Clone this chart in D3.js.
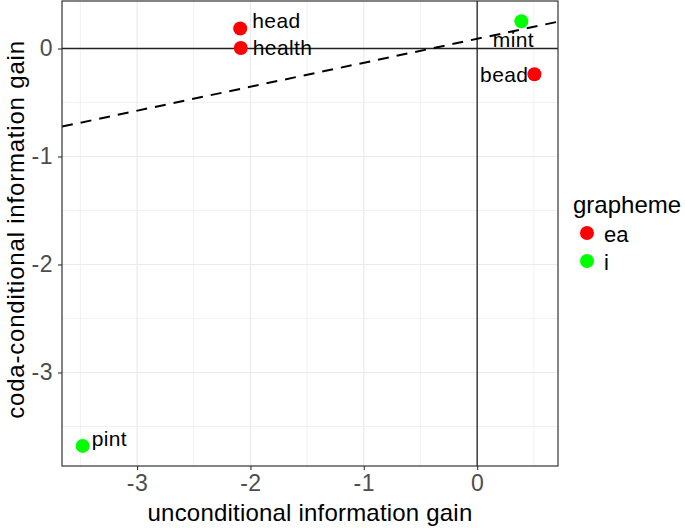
<!DOCTYPE html>
<html>
<head>
<meta charset="utf-8">
<script src="https://cdn.jsdelivr.net/npm/d3@7"></script>
<style>
  html, body { margin: 0; padding: 0; background: #fff; }
  svg { display: block; font-family: "Liberation Sans", Arial, sans-serif; }
</style>
</head>
<body>
<svg id="chart" width="685" height="528"></svg>
<script>
// ---- data ----
const words = ["head", "health", "mint", "bead", "pint"];
const graphemes = ["ea", "ea", "i", "ea", "i"];
const uncondGain = [-2.09, -2.085, 0.39, 0.505, -3.48];
const codaGain = [0.185, 0.005, 0.253, -0.238, -3.68];
const xTicks = [-3, -2, -1, 0];
const yTicks = [-3, -2, -1, 0];
const xMinor = [-3.5, -2.5, -1.5, -0.5, 0.5];
const yMinor = [-3.5, -2.5, -1.5, -0.5];
const legendKeys = ["ea", "i"];
const legendColors = ["#FF0000", "#00FF00"];
// dashed reference line: intercept and slope
const lineIntercept = 0.09;
const lineSlope = 0.222;

const svg = d3.select("#chart");
const pLeft = 62, pRight = 558, pTop = 1, pBottom = 466;

const x = d3.scaleLinear().domain([-3.662, 0.713]).range([pLeft, pRight]);
const y = d3.scaleLinear().domain([-3.866, 0.44]).range([pBottom, pTop]);
const color = d3.scaleOrdinal().domain(legendKeys).range(legendColors);

// background
svg.append("rect").attr("x", pLeft).attr("y", pTop).attr("width", pRight - pLeft).attr("height", pBottom - pTop).attr("fill", "#fff");

// grid
const grid = svg.append("g");
grid.selectAll(".xm").data(xMinor).enter().append("line")
  .attr("x1", d => x(d)).attr("x2", d => x(d)).attr("y1", pTop).attr("y2", pBottom)
  .attr("stroke", "#EBEBEB").attr("stroke-width", 0.7);
grid.selectAll(".ym").data(yMinor).enter().append("line")
  .attr("y1", d => y(d)).attr("y2", d => y(d)).attr("x1", pLeft).attr("x2", pRight)
  .attr("stroke", "#EBEBEB").attr("stroke-width", 0.7);
grid.selectAll(".xM").data(xTicks).enter().append("line")
  .attr("x1", d => x(d)).attr("x2", d => x(d)).attr("y1", pTop).attr("y2", pBottom)
  .attr("stroke", "#EBEBEB").attr("stroke-width", 1.2);
grid.selectAll(".yM").data(yTicks).enter().append("line")
  .attr("y1", d => y(d)).attr("y2", d => y(d)).attr("x1", pLeft).attr("x2", pRight)
  .attr("stroke", "#EBEBEB").attr("stroke-width", 1.2);

// reference lines at 0
svg.append("line").attr("x1", pLeft).attr("x2", pRight).attr("y1", y(0)).attr("y2", y(0))
  .attr("stroke", "#222").attr("stroke-width", 1.3);
svg.append("line").attr("x1", x(0)).attr("x2", x(0)).attr("y1", pTop).attr("y2", pBottom)
  .attr("stroke", "#222").attr("stroke-width", 1.3);

// dashed line
const xd = x.domain();
svg.append("line")
  .attr("x1", x(xd[0])).attr("y1", y(lineIntercept + lineSlope * xd[0]))
  .attr("x2", x(xd[1])).attr("y2", y(lineIntercept + lineSlope * xd[1]))
  .attr("stroke", "#000").attr("stroke-width", 2).attr("stroke-dasharray", "11,8");

// points
const pts = words.map((w, i) => ({w, g: graphemes[i], x: uncondGain[i], y: codaGain[i]}));
svg.append("g").selectAll("circle").data(pts).enter().append("circle")
  .attr("cx", d => x(d.x)).attr("cy", d => y(d.y)).attr("r", 7)
  .attr("fill", d => color(d.g));

// labels (offsets in px, as placed by repel)
const labelDx = [12, 12, -8, -6, 9];
const labelDy = [-8, 0, 18, 0, -7];
const labelAnchor = ["start", "start", "middle", "end", "start"];
svg.append("g").selectAll("text").data(pts).enter().append("text")
  .attr("x", (d, i) => x(d.x) + labelDx[i])
  .attr("y", (d, i) => y(d.y) + labelDy[i])
  .attr("dy", "0.35em")
  .attr("text-anchor", (d, i) => labelAnchor[i])
  .attr("font-size", 21).attr("letter-spacing", 0.4).attr("fill", "#000")
  .text(d => d.w);

// panel border
svg.append("rect").attr("x", pLeft).attr("y", pTop).attr("width", pRight - pLeft).attr("height", pBottom - pTop)
  .attr("fill", "none").attr("stroke", "#333").attr("stroke-width", 1.2);

// axes
const xAxis = svg.append("g").attr("transform", `translate(0,${pBottom})`)
  .call(d3.axisBottom(x).tickValues(xTicks).tickSize(4).tickPadding(5).tickFormat(d3.format("d")));
const yAxis = svg.append("g").attr("transform", `translate(${pLeft},0)`)
  .call(d3.axisLeft(y).tickValues(yTicks).tickSize(4).tickPadding(5).tickFormat(d3.format("d")));
[xAxis, yAxis].forEach(a => {
  a.select(".domain").remove();
  a.selectAll(".tick line").attr("stroke", "#333").attr("stroke-width", 1.1);
  a.selectAll(".tick text").attr("fill", "#4D4D4D").attr("font-size", 23).attr("letter-spacing", 0.5)
    .attr("font-family", "Liberation Sans, Arial, sans-serif");
});
xAxis.selectAll(".tick text").text(d => d < 0 ? "-" + Math.abs(d) : d);
yAxis.selectAll(".tick text").text(d => d < 0 ? "-" + Math.abs(d) : d);

// axis titles
svg.append("text").attr("x", (pLeft + pRight) / 2).attr("y", 521)
  .attr("text-anchor", "middle").attr("font-size", 24).attr("letter-spacing", 0.2).attr("fill", "#000")
  .text("unconditional information gain");
svg.append("text").attr("transform", `translate(24,${(pTop + pBottom) / 2 - 4}) rotate(-90)`)
  .attr("text-anchor", "middle").attr("font-size", 24).attr("letter-spacing", 0.8).attr("fill", "#000")
  .text("coda-conditional information gain");

// legend
const lg = svg.append("g").attr("transform", "translate(573,0)");
lg.append("text").attr("x", 0).attr("y", 213).attr("font-size", 24).attr("fill", "#000").text("grapheme");
lg.selectAll("circle").data(legendKeys).enter().append("circle")
  .attr("cx", 14).attr("cy", (d, i) => 233 + i * 28).attr("r", 7)
  .attr("fill", d => color(d));
lg.selectAll(".lt").data(legendKeys).enter().append("text")
  .attr("x", 31).attr("y", (d, i) => 234 + i * 28).attr("dy", "0.35em")
  .attr("font-size", 22).attr("fill", "#000").text(d => d);
</script>
</body>
</html>
